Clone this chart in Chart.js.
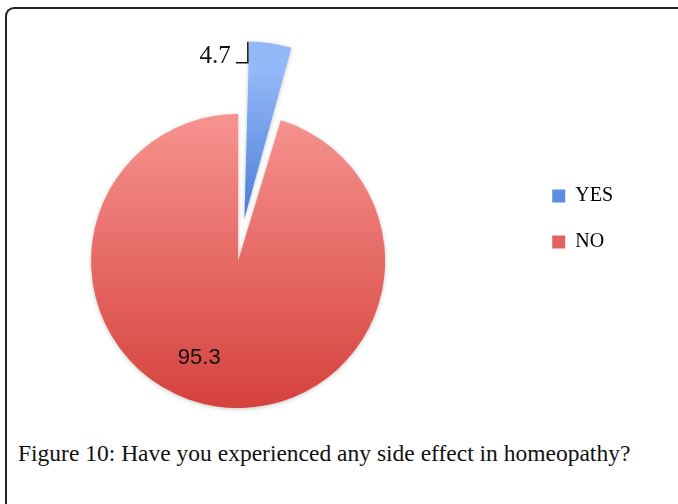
<!DOCTYPE html>
<html>
<head>
<meta charset="utf-8">
<script src="https://cdn.jsdelivr.net/npm/chart.js@4.4.1/dist/chart.umd.min.js"></script>
<style>
  html, body { margin: 0; padding: 0; background: #fff; }
  body { width: 678px; height: 504px; position: relative; overflow: hidden; }
  #frame { position: absolute; left: 5px; top: 7px; width: 700px; height: 600px;
           border-top: 2px solid #222; border-left: 2px solid #222; border-top-left-radius: 9px; }
  #pie { position: absolute; left: -50px; top: 0; }
  #caption { position: absolute; left: 18px; top: 442px; font: 23.5px "Liberation Serif", serif;
             line-height: 1; color: #111; white-space: nowrap; }
</style>
</head>
<body>
<div id="frame"></div>
<canvas id="pie" width="683" height="420"></canvas>
<div id="caption">Figure 10: Have you experienced any side effect in homeopathy?</div>
<script>
// data
const labels = ['YES', 'NO'];
const values = [4.7, 95.3];
const valueText = ['4.7', '95.3'];

// styles
const topColors = ['#94B8F8', '#F7938F'];
const bottomColors = ['#4A7DD6', '#D5423E'];
const legendColors = ['#5A8DE4', '#E26461'];
const explode = [171, 0];
const pieRadius = 147;

// vertical gradient per slice, in the slice's own (translated) space
function sliceFill(c) {
  const chart = c.chart;
  const area = chart.chartArea;
  const i = c.dataIndex;
  if (!area) return legendColors[i];
  const cy = (area.top + area.bottom) / 2;
  const y0 = cy - pieRadius;
  const y1 = explode[i] ? cy : cy + pieRadius;
  const g = chart.ctx.createLinearGradient(0, y0, 0, y1);
  g.addColorStop(0, topColors[i]);
  g.addColorStop(1, bottomColors[i]);
  return g;
}

const softShadow = {
  id: 'softShadow',
  beforeDatasetsDraw(chart) {
    const ctx = chart.ctx;
    ctx.save();
    ctx.shadowColor = 'rgba(0,0,0,0.22)';
    ctx.shadowBlur = 4;
    ctx.shadowOffsetY = 1;
  },
  afterDatasetsDraw(chart) {
    chart.ctx.restore();
  }
};

const sliceLabels = {
  id: 'sliceLabels',
  afterDatasetsDraw(chart) {
    const ctx = chart.ctx;
    chart.getDatasetMeta(0).data.forEach((arc, i) => {
      const p = arc.getProps(['x', 'y', 'startAngle', 'endAngle', 'outerRadius', 'circumference']);
      const half = (p.startAngle + p.endAngle) / 2;
      // same shift the arc element applies for its offset
      const shift = explode[i] / 4 * (2 - Math.sin(Math.min(Math.PI, p.circumference)));
      const cx = p.x + Math.cos(half) * shift;
      const cy = p.y + Math.sin(half) * shift;
      ctx.save();
      ctx.fillStyle = '#111';
      if (explode[i]) {
        const ax = cx + Math.cos(p.startAngle) * p.outerRadius - 1;
        const ay = cy + Math.sin(p.startAngle) * p.outerRadius;
        ctx.strokeStyle = '#111';
        ctx.lineWidth = 1.5;
        ctx.beginPath();
        ctx.moveTo(ax, ay);
        ctx.lineTo(ax, ay + 21);
        ctx.lineTo(ax - 12, ay + 21);
        ctx.stroke();
        ctx.font = '25px "Liberation Serif", serif';
        ctx.textAlign = 'right';
        ctx.textBaseline = 'alphabetic';
        ctx.fillText(valueText[i], ax - 17, ay + 21);
      } else {
        const a = half + 0.234;
        const d = p.outerRadius * 0.71;
        ctx.font = '22px "Liberation Sans", sans-serif';
        ctx.textAlign = 'center';
        ctx.textBaseline = 'middle';
        ctx.fillText(valueText[i], cx + Math.cos(a) * d, cy + Math.sin(a) * d);
      }
      ctx.restore();
    });
  }
};

new Chart(document.getElementById('pie').getContext('2d'), {
  type: 'pie',
  data: {
    labels: labels,
    datasets: [{
      data: values,
      backgroundColor: sliceFill,
      borderWidth: 0,
      offset: explode
    }]
  },
  options: {
    responsive: false,
    animation: false,
    devicePixelRatio: 1,
    events: [],
    radius: pieRadius,
    layout: { padding: { left: 0, top: 160, right: 10, bottom: 58 } },
    plugins: {
      tooltip: { enabled: false },
      legend: {
        position: 'right',
        align: 'start',
        labels: {
          boxWidth: 13,
          boxHeight: 13,
          padding: 26,
          color: '#111',
          font: { family: '"Liberation Serif", serif', size: 20 },
          generateLabels: () => labels.map((t, i) => ({
            text: t, fillStyle: legendColors[i], strokeStyle: legendColors[i],
            lineWidth: 0, hidden: false, index: i
          }))
        }
      }
    }
  },
  plugins: [softShadow, sliceLabels]
});
</script>
</body>
</html>
